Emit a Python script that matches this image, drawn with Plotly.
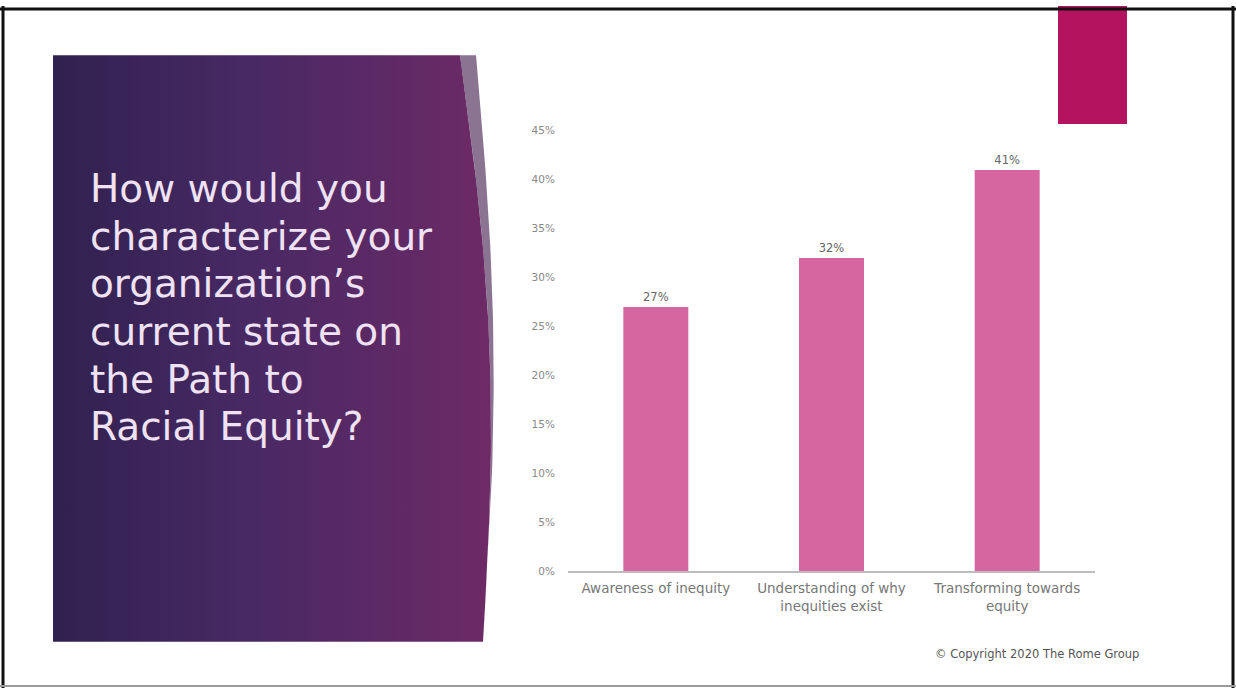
import numpy as np
import plotly.graph_objects as go

# ---- data ----
categories = ["Awareness of inequity", "Understanding of why<br>inequities exist", "Transforming towards<br>equity"]
values = [27, 32, 41]
value_labels = ["27%", "32%", "41%"]
tick_vals = [0, 5, 10, 15, 20, 25, 30, 35, 40, 45]
tick_text = ["0%", "5%", "10%", "15%", "20%", "25%", "30%", "35%", "40%", "45%"]
title_lines = ["How would you", "characterize your", "organization\u2019s",
               "current state on", "the Path to", "Racial Equity?"]
copyright_text = "\u00a9 Copyright 2020 The Rome Group"

W, H = 1236, 694
FONT = "DejaVu Sans"

fig = go.Figure()

# ---- bar chart ----
fig.add_trace(go.Bar(
    x=categories, y=values, text=value_labels, textposition="outside",
    textfont=dict(size=11.5, color="#666666", family=FONT),
    marker=dict(color="#D6669F", line=dict(width=0)),
    width=0.37, cliponaxis=False, showlegend=False, hoverinfo="skip",
    xaxis="x", yaxis="y",
))

# ---- decorative slide panel (pixel coordinate overlay axes) ----
ys = np.linspace(50, 647, 60)
t = (ys - 50) / (647 - 50)
x_inner = 460 + (483 - 460) * t + 18 * np.sin(np.pi * t)
x_outer = 476 + (483 - 476) * t + 14 * np.sin(np.pi * t)

# light strip along the curved edge
sx = np.concatenate([x_inner, x_outer[::-1]])
sy = np.concatenate([ys, ys[::-1]])
fig.add_trace(go.Scatter(x=sx, y=sy, fill="toself", mode="lines",
                         line=dict(width=0), fillcolor="#8A7492",
                         xaxis="x2", yaxis="y2", showlegend=False, hoverinfo="skip"))
# main purple panel with gradient
px_ = np.concatenate([[53], x_inner, [53]])
py_ = np.concatenate([[50], ys, [647]])
fig.add_trace(go.Scatter(x=px_, y=py_, fill="toself", mode="lines",
                         line=dict(width=0),
                         fillgradient=dict(type="horizontal",
                                           colorscale=[[0, "#30214F"], [0.45, "#482964"], [1, "#6D2A66"]]),
                         xaxis="x2", yaxis="y2", showlegend=False, hoverinfo="skip"))

annotations = []
y0_line, dy_line = 186, 48.4
for i, line in enumerate(title_lines):
    annotations.append(dict(
        x=88 / W, y=1 - (y0_line + i * dy_line) / H, xref="paper", yref="paper",
        xanchor="left", yanchor="middle", text=line, showarrow=False,
        font=dict(family=FONT, size=39, color="#EFE2F3"),
    ))
annotations.append(dict(
    x=1037 / W, y=1 - 659 / H, xref="paper", yref="paper", xanchor="center",
    yanchor="middle", text=copyright_text, showarrow=False,
    font=dict(family=FONT, size=11.5, color="#555555"),
))

shapes = [
    # magenta accent rectangle
    dict(type="rect", xref="paper", yref="paper", x0=1058 / W, x1=1127 / W,
         y0=1 - 120 / H, y1=1, fillcolor="#B3135F", line=dict(width=0), layer="below"),
    # slide border
    dict(type="line", xref="paper", yref="paper", x0=0, x1=1, y0=1 - 3 / H, y1=1 - 3 / H,
         line=dict(color="#111111", width=3)),
    dict(type="line", xref="paper", yref="paper", x0=3 / W, x1=3 / W, y0=0, y1=1,
         line=dict(color="#111111", width=3)),
    dict(type="line", xref="paper", yref="paper", x0=1233 / W, x1=1233 / W, y0=0, y1=1,
         line=dict(color="#111111", width=3)),
    dict(type="line", xref="paper", yref="paper", x0=0, x1=1, y0=1 - 692 / H, y1=1 - 692 / H,
         line=dict(color="#9A9A9A", width=2)),
]

fig.update_layout(
    width=W, height=H, margin=dict(l=0, r=0, t=0, b=0),
    paper_bgcolor="white", plot_bgcolor="rgba(0,0,0,0)",
    font=dict(family=FONT),
    xaxis=dict(domain=[568 / W, 1095 / W], showline=True, linecolor="#BDBDBD", linewidth=1.5,
               showgrid=False, zeroline=False, ticks="outside", ticklen=4,
               tickcolor="rgba(0,0,0,0)",
               tickfont=dict(size=13.5, color="#777777", family=FONT)),
    yaxis=dict(domain=[1 - 575 / H, 1 - 127 / H], range=[0, 45], tickvals=tick_vals,
               ticktext=tick_text, showgrid=False, zeroline=False, showline=False,
               ticks="outside", ticklen=10, tickcolor="rgba(0,0,0,0)",
               tickfont=dict(size=10.5, color="#888888", family=FONT)),
    xaxis2=dict(domain=[0, 1], range=[0, W], visible=False, anchor="y2"),
    yaxis2=dict(domain=[0, 1], range=[H, 0], visible=False, anchor="x2"),
    annotations=annotations, shapes=shapes,
)

fig.write_html("out.html")
